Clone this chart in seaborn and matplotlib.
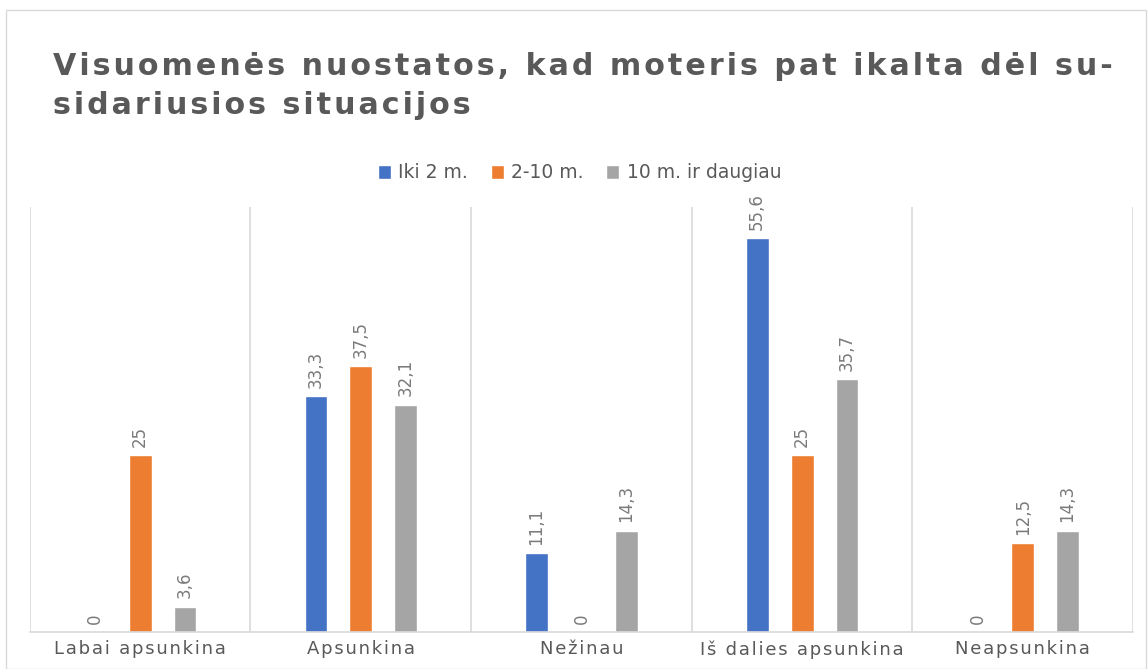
import pandas as pd
import seaborn as sns
import matplotlib.pyplot as plt
from matplotlib.patches import Rectangle

# duomenys
kategorijos = ["Labai apsunkina", "Apsunkina", "Nežinau", "Iš dalies apsunkina", "Neapsunkina"]
grupes = ["Iki 2 m.", "2-10 m.", "10 m. ir daugiau"]
iki_2 = [0, 33.3, 11.1, 55.6, 0]
nuo_2_iki_10 = [25, 37.5, 0, 25, 12.5]
daugiau_10 = [3.6, 32.1, 14.3, 35.7, 14.3]
spalvos = ["#4472C4", "#ED7D31", "#A5A5A5"]

rows = []
for g, vals in zip(grupes, [iki_2, nuo_2_iki_10, daugiau_10]):
    for k, v in zip(kategorijos, vals):
        rows.append({"kategorija": k, "grupe": g, "reiksme": v})
df = pd.DataFrame(rows)

sns.set_style("white")
plt.rcParams["font.family"] = ["DejaVu Sans"]
txt = "#595959"

fig = plt.figure(figsize=(11.48, 6.69), dpi=100)
ax = fig.add_axes([0.026, 0.0553, 0.961, 0.6353])

sns.barplot(data=df, x="kategorija", y="reiksme", hue="grupe",
            palette=spalvos, width=0.61, gap=0.49, ax=ax, saturation=1)

ax.set_xlim(-0.5, 4.5)
ax.set_ylim(0, 60)
ax.set_xlabel("")
ax.set_ylabel("")
ax.set_yticks([])

# kategoriju ribos
for x in [-0.5, 0.5, 1.5, 2.5, 3.5, 4.5]:
    ax.axvline(x, color="#d9d9d9", lw=1.2, zorder=0)
for s in ["left", "right", "top"]:
    ax.spines[s].set_visible(False)
ax.spines["bottom"].set_color("#d9d9d9")
ax.spines["bottom"].set_linewidth(1.2)

def spaced(s):
    return "\u200a".join(s)

ax.set_xticks(range(5))
ax.set_xticklabels([spaced(k) for k in kategorijos], fontsize=13, color=txt)
ax.tick_params(axis="x", length=0, pad=6)

for cont in ax.containers:
    lbls = [f"{b.get_height():g}".replace(".", ",") for b in cont]
    ax.bar_label(cont, labels=lbls, rotation=90, padding=6, fontsize=12, color="#7a7a7a")

handles, labels = ax.get_legend_handles_labels()
ax.legend_.remove()
fig.legend(handles, labels, loc="center", bbox_to_anchor=(0.505, 1 - 173 / 669),
           ncol=3, frameon=False, fontsize=13.5, handlelength=0.7, handleheight=0.7,
           handletextpad=0.4, columnspacing=1.2, labelcolor=txt)

titulas = "Visuomenės nuostatos, kad moteris pat ikalta dėl su-\nsidariusios situacijos"
t = fig.text(0.046, 1 - 86 / 669, "\n".join(spaced(l) for l in titulas.split("\n")),
             fontsize=21, fontweight="bold", color=txt, va="center", ha="left",
             linespacing=1.45)

# pavadinimas per plota nuo ~53 iki ~1110 px
fig.canvas.draw()
bb = t.get_window_extent()
t.set_fontsize(21 * 1057 / bb.width)
fig.canvas.draw()
bb = t.get_window_extent()
x0, _ = t.get_position()
t.set_x(x0 + (53 - bb.x0) / 1148)

fig.patches.append(Rectangle((0.005, 0.0), 0.993, 0.985, transform=fig.transFigure,
                             fill=False, edgecolor="#d9d9d9", lw=1))

fig.savefig("out.png", dpi=100)
